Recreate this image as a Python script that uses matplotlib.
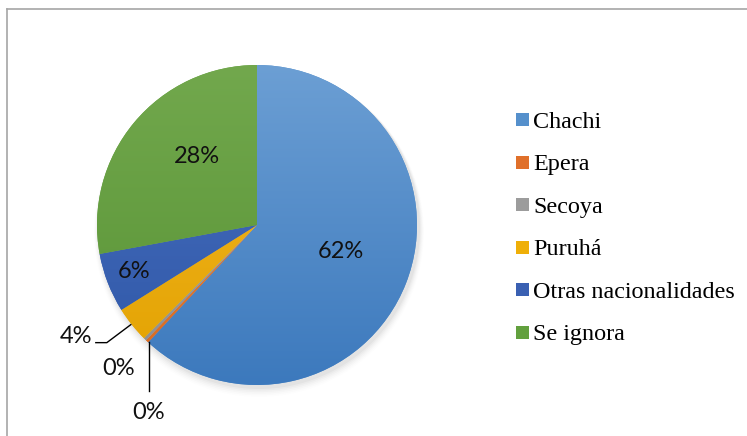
import numpy as np
import matplotlib
matplotlib.use("Agg")
import matplotlib.pyplot as plt
from matplotlib.colors import LinearSegmentedColormap
from matplotlib.lines import Line2D
from matplotlib.patches import Rectangle

categories = ["Chachi", "Epera", "Secoya", "Puruhá", "Otras nacionalidades", "Se ignora"]
values = [61.9, 0.3, 0.3, 3.6, 6.0, 27.9]
pct_labels = ["62%", "0%", "0%", "4%", "6%", "28%"]

top_colors = ["#6C9FD4", "#F08A45", "#B0B0B0", "#F5B828", "#4A70C0", "#72A84D"]
bot_colors = ["#3C79BD", "#D8691E", "#8C8C8C", "#E2A200", "#2E57A7", "#589335"]
legend_colors = ["#5590CC", "#E0702A", "#9C9C9C", "#EFAF08", "#3A60B2", "#62A03E"]

W, H = 747, 436
fig = plt.figure(figsize=(W / 100, H / 100), dpi=100)
ax = fig.add_axes([0, 0, 1, 1])
cx, cy, R = 257, H - 225, 160

wedges, _ = ax.pie(values, startangle=90, counterclock=False, center=(cx, cy),
                   radius=R, colors=legend_colors,
                   wedgeprops=dict(linewidth=0))
ax.axis("off")

# soft shadow
for i, a in enumerate(np.linspace(0.05, 0.01, 6)):
    c = plt.Circle((cx + 2, cy - 3 - i * 0.8), R + 1 + i * 0.8, color="black",
                   alpha=a * 0.6, zorder=0, lw=0)
    ax.add_patch(c)

# gradient fills
grad = np.linspace(0, 1, 256).reshape(-1, 1)
for w, tc, bc in zip(wedges, top_colors, bot_colors):
    cmap = LinearSegmentedColormap.from_list("g", [tc, bc])
    im = ax.imshow(grad, cmap=cmap, extent=(cx - R, cx + R, cy - R, cy + R),
                   origin="upper", aspect="auto", zorder=2)
    im.set_clip_path(w)
ax.set_xlim(0, W)
ax.set_ylim(0, H)
ax.set_aspect("auto")

lab_font = dict(family=["Lato", "DejaVu Sans"], fontsize=17, color="#111111")

def mid_angle(w):
    return np.deg2rad((w.theta1 + w.theta2) / 2)

# inside labels: (index, radial fraction, dx, dy)
inside = [(0, 0.55, 2, 6), (5, 0.55, 8, 12), (4, 0.81, -2, 0)]
for i, frac, dx, dy in inside:
    a = mid_angle(wedges[i])
    ax.text(cx + frac * R * np.cos(a) + dx, cy + frac * R * np.sin(a) + dy, pct_labels[i],
            ha="center", va="center", zorder=5, **lab_font)

# outside labels with leaders
# Puruhá
a = mid_angle(wedges[3])
px, py = cx + R * np.cos(a), cy + R * np.sin(a)
ax.plot([px - 1, px - 25, px - 36], [py, py - 18, py - 18], color="black", lw=1, zorder=5)
ax.text(px - 56, py - 12, pct_labels[3], ha="center", va="center", zorder=5, **lab_font)
# Secoya
a = mid_angle(wedges[2])
px, py = cx + R * np.cos(a), cy + R * np.sin(a)
ax.text(px - 26, py - 29, pct_labels[2], ha="center", va="center", zorder=5, **lab_font)
# Epera
a = np.deg2rad(wedges[1].theta2)
px, py = cx + R * np.cos(a), cy + R * np.sin(a)
ax.plot([px + 1, px + 1], [py, py - 49], color="black", lw=1, zorder=5)
ax.text(px, py - 70, pct_labels[1], ha="center", va="center", zorder=5, **lab_font)

# legend (manual entries)
leg_x, leg_y0, leg_dy, sq = 516, 120, 42.4, 13
for i, (cat, col) in enumerate(zip(categories, legend_colors)):
    yc = H - (leg_y0 + i * leg_dy)
    ax.add_patch(Rectangle((leg_x, yc - sq / 2), sq, sq, facecolor=col, edgecolor="none", zorder=5))
    ax.text(leg_x + sq + 4, yc - 2.5, cat, ha="left", va="center", family="Liberation Serif",
            fontsize=17.4, color="black", zorder=5)

# border
ax.add_line(Line2D([7, W], [H - 9, H - 9], color="#A6A6A6", lw=1.2))
ax.add_line(Line2D([7, 7], [0, H - 9], color="#A6A6A6", lw=1.2))

fig.savefig("out.png", dpi=100)
